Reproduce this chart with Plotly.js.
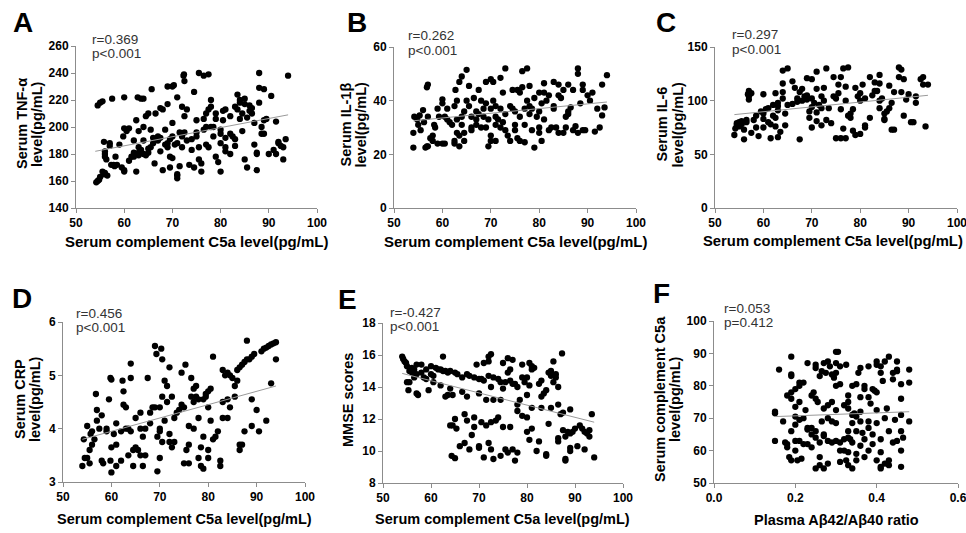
<!DOCTYPE html>
<html>
<head>
<meta charset="utf-8">
<script src="https://cdn.plot.ly/plotly-3.0.1.min.js"></script>
<style>html,body{margin:0;padding:0;background:#fff;}#chart{width:966px;height:533px;}</style>
</head>
<body>
<div id="chart"></div>
<script>
// ---------- DATA ----------
const xLabelC5a = "Serum complement C5a level(pg/mL)";
const xLabelRatio = "Plasma Aβ42/Aβ40 ratio";
const panelLetters = ["A", "B", "C", "D", "E", "F"];
const yLabels = [
  ["Serum TNF-α", "level(pg/mL)"],
  ["Serum IL-1β", "level(pg/mL)"],
  ["Serum IL-6", "level(pg/mL)"],
  ["Serum CRP", "level(pg/mL)"],
  ["MMSE scores"],
  ["Serum complement C5a", "level(pg/mL)"]
];
const statR = ["r=0.369", "r=0.262", "r=0.297", "r=0.456", "r=-0.427", "r=0.053"];
const statP = ["p<0.001", "p<0.001", "p<0.001", "p<0.001", "p<0.001", "p=0.412"];

const pointsA = [
  [54.2,159],[54.5,160],[54.8,161],[55,163],[55.5,167],[55.8,165],[56.5,164],[56,166],
  [54.5,216],[55,218],[55.5,219],[57.5,221],[60,222],
  [55.8,189],[56,182],[56,180],[56,178],[56.3,176],
  [57,188],[57,186],[57.3,172],[57.8,172],[58,171],[58.5,172],[58.2,178],[59,187],
  [59.5,170],[60,167],[60,168],[59.8,193],[60,199],[60.5,197],[61,199],
  [61,175],[61.5,178],[62,178],[62,181],[62,190],[62.5,167],[62.5,205],[63,197],[63,185],[63,181],[63,179],[62.8,222],[63.5,221],[64,221],
  [63.5,183],[64,180],[64,190],[64,200],[64.5,208],[65,210],[64.5,179],[65,181],[65,184],[65.5,185],[65.5,198],[65.7,228],
  [66,188],[66,192],[66.3,173],[66.5,210],[67,190],[67,193],[67.5,192],[67.5,214],[68,213],[67.5,182],
  [68,168],[68.5,187],[68.5,198],[69,188],[69,185],[69,230],[69,217],[69.5,170],[69.5,178],[69.5,191],[70,230],[70,193],[70,177],[70,203],[70.3,231],[70.5,187],
  [71,164],[71,165],[71,162],[71,222],[71.5,171],[71,188],[71.5,196],[72,193],[72,185],[72,215],[72.3,238],[72.4,239],[72.5,234],[72.5,208],[72.5,196],[73,213],[73,190],[73.5,172],
  [74,183],[74,191],[74.5,170],[74.5,226],[75,193],[75,196],[75,205],[75.5,240],[75.5,176],[75.5,185],[76,173],[76,167],[76.5,198],[76.5,206],[76.5,238],[77,200],[77,187],[77,210],[77.5,239],[77.5,185],[77.5,213],[78,200],[78,215],[78,220],[78.5,200],[78.5,193],[79,178],[79,206],[79,210],[79.5,174],
  [80,167],[80,188],[80,195],[80,198],[80.5,212],[80.5,205],[81,185],[81,182],[81,192],[81,213],[82,180],[82,195],[82,208],[82.5,193],[83,191],[83,186],[83,215],[83.5,213],[83.5,224],[84,220],[84,218],[84,206],[84.5,197],[84.5,210],[85,217],[85,221],[85,176],[85.5,170],[85.5,207],[86,216],[86,212],[86.5,210],[86.5,214],[87,187],[87,203],[87.5,168],[87.5,181],[87.5,180],[88,218],[88,229],[88,240],[88.5,195],[88.5,200],[89,228],[89,205],[89,195],[89.5,206],[90,180],[90.5,223],[91,183],[91.5,204],[91.5,180],[92,189],[92,188],[92.5,186],[93,176],[93,185],[93.5,191],[94,238]
];
const fitA = [[54,182],[94,209]];

const pointsB = [
  [54,22.5],[54,28],[54.2,34],[54.8,33],[55,31],[55.3,34.5],[55.5,29],[56,36.5],[56.2,32],[56.5,22.5],[56.8,23],[56.8,45],[57,46],[57,34],[57,23],[57.5,26],[58,27],[58,25],[58.3,31],[58.5,30],[59,24],[59,37],[59.3,34],[60,40.5],[60,39],[60,24],[60.5,34],[60.5,24],[61,37],[61,33],[61.5,32],[62,31],[62.5,25],[62.5,24],[62.5,38],[62.7,44],[63,40],[63,33],[63,28],[63.5,23],[63.5,47],[63.5,27],[64,49],[64,34],[64,31],[64.5,28],[64.5,25],[64.5,36],[65,40],[65,51.5],[65.5,45.5],[65.5,38],[66,34],[66,30],[66,29],[66.5,41],[67,36],[67,31],[67,33],[67.5,35],[67.5,44],[68,40],[68,30],[68.5,34],[68.5,37],[69,47],[69,39],[69,30],[69.5,23],[69.5,33],[70,48],[70,37],[70,27],[70,25],[70.5,47],[70.5,40],[71,34],[71,38],[71,31],[71,25],[71.5,33],[72,48.5],[72,30],[72,37],[72.5,43],[72.5,32],[73,52],[73,35],[73,29],[73.5,27],[74,38],[74,25],[74.5,44],[74.5,37],[75,36],[75,31],[75,29],[75.5,44],[75.5,26],[76,34],[76,25],[76,43],[76.5,51],[76.5,45],[77,37],[77,31],[77,24.5],[77.5,52],[77.5,40],[78,45.5],[78,38],[78,35],[78.5,29],[78.5,37],[79,22.5],[79,41],[79.5,34],[80,43],[80,36],[80,30],[80,28],[80.5,39],[80.5,25],[81,46.5],[81,43],[81,33],[81.5,40],[82,29],[82,42],[82.5,30],[83,47],[83,38],[83,37],[83.5,30],[84,46],[84,42],[84,28],[84.5,41],[85,44],[85,28],[85.5,34],[85.5,30],[86,46],[86,35],[86,36],[86.5,37.5],[87,44],[87,29],[87.5,30.5],[88,52],[88,50],[88,28],[88.5,39],[89,46],[89,44],[89,29],[89.5,29],[90,42],[90.5,40],[91,43],[91.5,28.5],[92,37],[92.5,30],[93,34.5],[93,46],[93.5,37.5],[94,49.5]
];
const fitB = [[54,32.5],[94,39.5]];

const pointsC = [
  [54,68],[54.2,74],[54.5,77],[54.5,79],[55,76],[55,80],[55.5,78],[55.5,81],[56,73],[56,64],[56.5,80],[56.5,82],[56.8,106],[57,104],[57,101],[57,109],[57.5,107],[57.5,70],[58,82],[58.5,86],[58.5,75],[59,67],[59.5,90],[60,88],[60,106],[60,83],[60,75],[60.5,92],[61,93],[61,80],[61.5,78],[61.5,65],[62,96],[62,86],[62.5,107],[62.5,84],[62.5,76],[63,98],[63,95],[63,91],[63,66],[63.5,71],[64,108],[64,102],[64,116],[64,128],[64.5,77],[64.5,88],[65,130],[65,96],[66,118],[66,97],[66.5,112],[67,99],[67,102],[67.5,64],[67.5,108],[68,100],[68,111],[68.5,104],[69,121],[69,101],[69,105],[69.5,90],[69.5,84],[70,120],[70,102],[70,94],[70,75],[70.5,98],[71,127],[71,111],[71,89],[71,81],[71.5,96],[72,104],[72,93],[72,77],[72.5,112],[72.5,100],[73,130],[73,82],[73.5,93],[74,79],[74.5,122],[74.5,104],[75,102],[75,65],[75.5,107],[75.5,115],[76,122],[76,92],[76,65],[76.5,130],[76.5,74],[77,113],[77,65],[77,100],[77.5,131],[77.5,86],[78,84],[78,88],[78.5,72],[78.5,92],[79,112],[79,68],[79.5,104],[80,100],[80,69],[80,107],[80.5,115],[81,102],[81,77],[81,75],[82,122],[82,84],[82.5,105],[83,117],[83,109],[83.5,109],[84,124],[84,116],[84,100],[84,93],[84.5,102],[85,88],[85,82],[85,83],[85.5,90],[86,114],[86,93],[86.5,98],[86.5,73],[87,73],[87,108],[88,131],[88,122],[88.5,129],[88.5,108],[89,120],[89,86],[89.5,101],[90,106],[90.5,80],[91,80],[91.5,98],[91.5,104],[92.5,120],[93,122],[93,115],[93.5,76],[94,115]
];
const fitC = [[54,87],[94,105]];

const pointsD = [
  [54,3.3],[54.3,3.8],[54.5,3.45],[55,4.05],[55,3.45],[55.5,3.35],[55.5,3.6],[55.7,3.9],[56,3.7],[56,3.95],[56.5,3.8],[56.8,4.65],[57,4.35],[57,4.15],[57.5,4.0],[58,4.25],[58,3.4],[58.3,3.35],[59,3.95],[59,4.0],[59.5,4.55],[59.8,4.95],[60,4.92],[59.8,3.4],[60,3.18],[60,3.65],[60.5,3.9],[61,4.1],[61,3.3],[61,3.7],[62,3.4],[62,3.95],[62.3,4.9],[62.5,4.7],[62.5,4.45],[63,4.4],[63,4.0],[63.5,3.5],[63.5,4.0],[64,4.95],[64,5.22],[64,3.95],[64.5,3.6],[64.5,3.3],[65,4.2],[65,3.65],[65.5,3.6],[66,4.3],[66,4.0],[66,3.5],[66.5,3.3],[66.5,3.85],[67,3.5],[67,4.0],[67.5,4.95],[68,4.1],[68,4.3],[68.5,4.4],[69,5.55],[69,4.4],[69.3,5.4],[69.5,3.85],[69.5,3.2],[70,3.95],[70,4.0],[70,4.4],[70,3.45],[70.3,5.5],[70.5,5.3],[70.5,4.6],[70.5,3.75],[71,4.9],[71,4.15],[71.5,4.8],[71.5,4.5],[72,3.75],[72,5.15],[72,3.9],[72.5,4.6],[72.5,3.65],[73,4.2],[73,3.75],[73.5,4.3],[74,4.35],[74.5,5.05],[74.5,4.45],[75,4.4],[75,3.35],[75.3,5.2],[75.5,3.6],[76,4.05],[76,3.7],[76,3.35],[76.5,4.95],[76.5,4.6],[77,4.75],[77,4.5],[77,4.0],[77.5,4.6],[77.5,4.8],[78,4.55],[78,3.45],[78,4.2],[78.5,3.3],[78.5,3.65],[79,4.55],[79,3.85],[79,3.25],[79.5,4.6],[79.5,4.65],[80,4.7],[80,4.4],[80,3.6],[80,3.45],[80.5,4.75],[80.5,4.15],[81,5.35],[81,3.8],[81.5,3.85],[82,3.95],[82.5,3.4],[82.5,3.3],[83,5.1],[83,4.5],[83,4.2],[83.5,5.0],[84,5.05],[84,4.55],[84,4.2],[84.5,5.0],[84.5,4.4],[85,4.95],[85.5,4.8],[85.5,4.6],[86,4.9],[86,5.1],[86.5,5.15],[86.5,3.6],[86.5,3.7],[87,5.2],[87,3.7],[87.5,5.25],[87.5,3.95],[88,5.3],[88,5.65],[88.5,5.3],[89,5.35],[89,4.55],[89,4.05],[89.5,5.4],[90,4.35],[90.5,3.95],[91,5.45],[91.5,5.5],[92,5.52],[92,4.15],[92.5,5.55],[93,5.58],[93,4.85],[93.5,5.6],[94,5.62],[94,5.3]
];
const fitD = [[54,3.8],[94,4.8]];

const pointsE = [
  [54,15.9],[54.2,15.75],[54.5,15.6],[54.8,15.5],[55,15.3],[55,14.3],[55.3,13.8],[55.5,14.3],[55.5,15.0],[56,15.2],[56,14.9],[56.5,14.6],[56.5,15.1],[57,15.4],[57,14.8],[57,13.6],[57.3,13.5],[58,15.4],[58,14.9],[58.5,14.6],[59,15.1],[59,14.5],[59.5,13.8],[60,15.3],[60,14.8],[60.5,14.3],[60.5,14.7],[61,15.2],[61.5,15.1],[62,15.1],[62,14.1],[62.5,15.9],[62.5,15.0],[63,15.0],[63,13.4],[63.5,14.9],[63.5,13.5],[64,15.0],[64,13.9],[64,11.6],[64.3,9.7],[64.5,11.6],[64.5,13.5],[65,14.9],[65,12.0],[65,9.55],[65.3,11.4],[65.5,14.8],[66,10.3],[66.5,14.6],[66.5,13.7],[67,12.3],[67,10.5],[67.5,14.8],[67.5,11.9],[67.5,13.4],[68,14.7],[68,10.1],[68.5,11.0],[69,12.1],[69,14.6],[69,11.5],[69.5,15.4],[70,14.5],[70,10.3],[70,13.6],[70,10.2],[70.5,14.5],[70.5,11.8],[71,14.4],[71,15.5],[71,9.6],[71.5,13.2],[71.5,11.6],[72,15.6],[72,15.9],[72,14.7],[72,10.5],[72.5,16.05],[72.5,14.0],[72.5,11.8],[72.5,10.1],[73,14.6],[73,13.2],[73,9.5],[73.5,11.9],[74,14.5],[74,12.1],[74.5,14.3],[74.5,13.2],[74.5,9.7],[75,15.5],[75,13.9],[75,11.5],[75.5,14.3],[75.5,10.1],[76,15.8],[76,14.9],[76,9.9],[76.5,15.1],[76.5,14.4],[76.5,11.5],[77,15.7],[77,14.2],[77,10.1],[77.5,14.2],[77.5,9.4],[78,12.9],[78,14.0],[78,12.5],[78,9.9],[78.5,13.2],[79,15.4],[79,14.6],[79,12.2],[79.5,14.3],[80,14.6],[80,12.1],[80,11.2],[80,13.5],[80.5,15.5],[80.5,14.1],[80.5,10.7],[81,15.3],[81,15.1],[81,11.4],[81,12.7],[81.5,15.2],[82,10.0],[82.5,10.6],[82.5,14.2],[83,14.4],[83,13.4],[83,12.7],[83.5,13.6],[84,13.8],[84,9.8],[84,9.7],[84.5,11.7],[84.5,14.9],[85,15.0],[85,14.7],[85,12.7],[85.5,15.6],[85.5,14.3],[86,14.6],[86,14.8],[86.5,14.0],[86.5,12.9],[86.5,10.8],[86.5,10.6],[87,12.3],[87.3,16.1],[87.5,12.4],[87.5,11.3],[88,10.9],[88,9.5],[88,9.4],[88.5,11.2],[89,12.6],[89,11.1],[89,10.2],[89,10.0],[89.5,11.2],[90,11.4],[90.5,10.3],[91,11.6],[91.5,11.4],[92,11.2],[92,10.1],[92.5,11.1],[93,10.9],[93,11.3],[93.5,12.3],[94,9.6]
];
const fitE = [[54,14.85],[94,11.8]];

const pointsF = [
  [0.15,72],[0.15,71.5],[0.15,63],[0.16,85],[0.17,69],[0.175,62.5],[0.18,62],[0.18,61],[0.18,77],[0.185,58],[0.19,89],[0.19,83.5],[0.19,83],[0.19,78],[0.19,76],[0.19,66],[0.19,57],[0.2,73.5],[0.2,70.5],[0.2,68],[0.2,60],[0.2,79],[0.2,63],[0.205,57],[0.21,81],[0.21,80],[0.21,75],[0.21,69.5],[0.21,63],[0.215,57.5],[0.22,81],[0.22,70],[0.22,62],[0.225,72.5],[0.23,87],[0.23,67],[0.23,62],[0.23,66.5],[0.24,77],[0.24,67],[0.24,65],[0.24,61],[0.245,78],[0.25,85.5],[0.25,86.5],[0.25,76],[0.25,66],[0.25,64],[0.25,54.5],[0.255,75],[0.26,83],[0.26,62.5],[0.26,58],[0.26,55.5],[0.265,84.5],[0.265,69],[0.27,87],[0.27,73],[0.27,65],[0.27,64.5],[0.27,54.5],[0.275,84],[0.28,87.5],[0.28,74],[0.28,70],[0.28,63],[0.28,56],[0.285,86],[0.29,83.5],[0.29,75],[0.29,69],[0.29,62.5],[0.295,82.5],[0.3,90.5],[0.3,87],[0.3,84],[0.3,80],[0.3,72.5],[0.3,68.5],[0.3,63],[0.305,90.5],[0.31,86],[0.31,80.5],[0.31,62.5],[0.31,60],[0.31,56.5],[0.32,74],[0.32,63.5],[0.32,60],[0.325,86.5],[0.325,57],[0.33,77],[0.33,75],[0.33,73],[0.33,66],[0.33,64],[0.33,59.5],[0.33,55.5],[0.335,63.5],[0.34,80],[0.34,71],[0.34,68.5],[0.34,62.5],[0.34,54.5],[0.345,71.5],[0.35,80.5],[0.35,70.5],[0.35,66],[0.35,59],[0.35,57],[0.355,84],[0.36,85.5],[0.36,76.5],[0.36,72],[0.36,69],[0.36,61.5],[0.365,65.5],[0.37,80],[0.37,79],[0.37,63.5],[0.37,58],[0.38,86],[0.38,76.5],[0.38,69],[0.38,67],[0.38,60],[0.385,74.5],[0.39,79],[0.39,65],[0.39,62],[0.395,78.5],[0.4,87.5],[0.4,86.5],[0.4,78],[0.4,72.5],[0.4,68.5],[0.4,57],[0.41,86],[0.41,84],[0.41,63.5],[0.41,59.5],[0.41,55],[0.41,54.5],[0.415,81.5],[0.42,87.5],[0.42,70],[0.42,56],[0.425,73],[0.43,89],[0.43,66],[0.43,57],[0.43,55.5],[0.44,84],[0.44,82],[0.44,62.5],[0.445,69.5],[0.45,87.5],[0.45,85],[0.45,84.5],[0.45,63],[0.46,80.5],[0.46,76],[0.46,71],[0.46,66],[0.46,60],[0.46,55],[0.465,64],[0.48,85],[0.48,81],[0.48,69]
];
const fitF = [[0.15,70.5],[0.48,72]];

const xRanges = [[50,100],[50,100],[50,100],[50,100],[50,100],[0,0.6]];
const yRanges = [[140,260],[0,60],[0,150],[3,6],[8,18],[50,100]];
const xDticks = [10,10,10,10,10,0.2];
const yDticks = [20,20,50,1,2,10];

// ---------- LAYOUT (pixel geometry) ----------
const W = 966, H = 533;
const boxes = [ // [left, right, top, bottom] in px
  [76,317,46,208],[394,636,47,208],[715,957,47,208],
  [63,305,322,482],[383,623,323,483],[714,958,321,483]
];
const letterPos = [[23,22],[357,22],[666,22],[22,298],[347,299],[661,293]];
const statPos = [[90,39.5,54],[406,35.5,50.5],[730,35,49],[74,313,327.5],[388,312.5,326.5],[722,308.5,322.5]];
const xTitlePos = [[196,241],[515,241],[833,241],[184,519],[503,519],[836,520]];
const xTitleSize = [15,15,14.8,14.5,14.5,14.5];
const yTitleX = [[22,37],[345,360],[661,677],[20,35],[348],[660,675]];
const px = x => x / W, py = y => 1 - y / H;

const allPoints = [pointsA,pointsB,pointsC,pointsD,pointsE,pointsF];
const allFits = [fitA,fitB,fitC,fitD,fitE,fitF];
const FONT = "Liberation Sans, Arial, Helvetica, sans-serif";

const traces = [];
const layout = {
  width: W, height: H, margin: {l:0,r:0,t:0,b:0},
  paper_bgcolor: "#fff", plot_bgcolor: "#fff", showlegend: false,
  font: {family: FONT, color: "#000"},
  annotations: []
};

allPoints.forEach((pts, i) => {
  const n = i === 0 ? "" : String(i + 1);
  traces.push({
    type: "scatter", mode: "markers", xaxis: "x" + n, yaxis: "y" + n,
    x: pts.map(p => p[0]), y: pts.map(p => p[1]),
    marker: {color: "#000", size: 6.3}, hoverinfo: "x+y", cliponaxis: false
  });
  traces.push({
    type: "scatter", mode: "lines", xaxis: "x" + n, yaxis: "y" + n,
    x: allFits[i].map(p => p[0]), y: allFits[i].map(p => p[1]),
    line: {color: "#9a9a9a", width: 1}, hoverinfo: "skip"
  });
  const b = boxes[i];
  const common = {
    showline: true, linecolor: "#8c8c8c", linewidth: 1, mirror: false,
    ticks: "outside", ticklen: 4, tickcolor: "#8c8c8c", tickwidth: 1,
    showgrid: false, zeroline: false, fixedrange: true,
    ticklabeloverflow: "allow",
    tickfont: {family: FONT, size: 12, color: "#000", weight: "bold"}
  };
  layout["xaxis" + n] = Object.assign({}, common, {
    domain: [px(b[0]), px(b[1])], anchor: "y" + n,
    range: xRanges[i], dtick: xDticks[i], tick0: 0,
    tickformat: i === 5 ? ".1f" : "d"
  });
  layout["yaxis" + n] = Object.assign({}, common, {
    domain: [py(b[3]), py(b[2])], anchor: "x" + n,
    range: yRanges[i], dtick: yDticks[i], tick0: 0
  });
  // panel letter
  layout.annotations.push({
    xref: "paper", yref: "paper", x: px(letterPos[i][0]), y: py(letterPos[i][1]),
    xanchor: "center", yanchor: "middle", showarrow: false,
    text: panelLetters[i], font: {family: FONT, size: 28, color: "#000", weight: "bold"}
  });
  // stats
  layout.annotations.push({
    xref: "paper", yref: "paper", x: px(statPos[i][0]), y: py(statPos[i][1]),
    xanchor: "left", yanchor: "middle", showarrow: false,
    text: statR[i], font: {family: FONT, size: 13.5, color: "#333"}
  });
  layout.annotations.push({
    xref: "paper", yref: "paper", x: px(statPos[i][0]), y: py(statPos[i][2]),
    xanchor: "left", yanchor: "middle", showarrow: false,
    text: statP[i], font: {family: FONT, size: 13.5, color: "#333"}
  });
  // x title
  layout.annotations.push({
    xref: "paper", yref: "paper", x: px(xTitlePos[i][0]), y: py(xTitlePos[i][1]),
    xanchor: "center", yanchor: "middle", showarrow: false,
    text: i === 5 ? xLabelRatio : xLabelC5a,
    font: {family: FONT, size: xTitleSize[i], color: "#000", weight: "bold"}
  });
  // y title (one annotation per line)
  yLabels[i].forEach((line, k) => {
    layout.annotations.push({
      xref: "paper", yref: "paper",
      x: px(yTitleX[i][k]),
      y: py((b[2] + b[3]) / 2 - 3),
      xanchor: "center", yanchor: "middle", showarrow: false, textangle: -90,
      text: line, font: {family: FONT, size: 14.5, color: "#000", weight: "bold"}
    });
  });
});

Plotly.newPlot("chart", traces, layout, {staticPlot: true, displayModeBar: false});
</script>
</body>
</html>
